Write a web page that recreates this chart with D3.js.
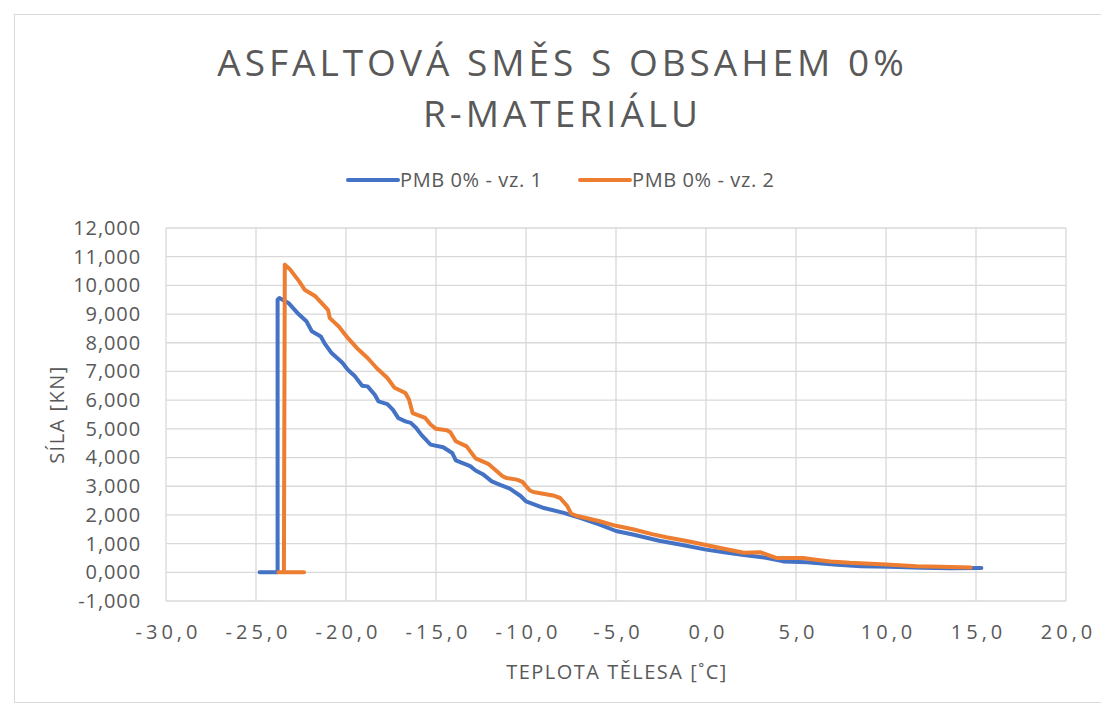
<!DOCTYPE html>
<html>
<head>
<meta charset="utf-8">
<script src="https://cdn.jsdelivr.net/npm/d3@7"></script>
<style>
  html, body { margin: 0; padding: 0; background: #fff; }
  svg { display: block; }
  text { font-family: "Open Sans", "Noto Sans", sans-serif; fill: #595959; }
</style>
</head>
<body>
<svg id="chart" width="1101" height="707"></svg>
<script>
// Tension test during cooling: force [kN] against specimen temperature [°C]
const titleLines = ["ASFALTOVÁ SMĚS S OBSAHEM 0%", "R-MATERIÁLU"];
const seriesNames = ["PMB 0% - vz. 1", "PMB 0% - vz. 2"];
const seriesColors = ["#4472C4", "#ED7D31"];
const xTicks = [-30, -25, -20, -15, -10, -5, 0, 5, 10, 15, 20];
const yTicks = [-1, 0, 1, 2, 3, 4, 5, 6, 7, 8, 9, 10, 11, 12];
const xTitle = "TEPLOTA TĚLESA [˚C]";
const yTitle = "SÍLA [KN]";

// specimen 1
const temp1 = [15.3, 13.6, 12.0, 10.2, 8.6, 7.1, 5.6, 4.3, 3.4, 2.1, 1.0, 0.0, -1.3, -2.6, -4.0, -5.0, -5.9, -7.0, -7.6, -7.9,
  -9.0, -10.0, -10.3, -10.9, -11.4, -11.9, -12.4, -12.8, -13.1, -13.9, -14.1, -14.6, -15.3, -15.8, -16.1, -16.4, -16.7, -17.1,
  -17.4, -17.7, -18.2, -18.4, -18.8, -19.1, -19.5, -19.9, -20.2, -20.8, -21.2, -21.4, -21.9, -22.2, -22.7, -23.2, -23.7, -23.8,
  -23.8, -24.8];
const force1 = [0.15, 0.14, 0.16, 0.19, 0.21, 0.27, 0.35, 0.38, 0.50, 0.60, 0.70, 0.79, 0.95, 1.10, 1.31, 1.44, 1.66, 1.90, 2.01, 2.07,
  2.24, 2.47, 2.66, 2.92, 3.04, 3.17, 3.42, 3.55, 3.70, 3.90, 4.16, 4.36, 4.45, 4.78, 5.03, 5.21, 5.26, 5.38,
  5.67, 5.86, 5.96, 6.19, 6.48, 6.50, 6.83, 7.06, 7.30, 7.64, 7.99, 8.22, 8.40, 8.75, 9.04, 9.39, 9.56, 9.50,
  0.0, 0.0];

// specimen 2
const temp2 = [14.7, 13.0, 11.7, 10.0, 8.0, 6.9, 6.0, 5.4, 4.5, 3.9, 3.0, 2.1, 1.0, 0.0, -1.0, -2.2, -3.0, -4.0, -5.0, -5.9,
  -7.2, -7.5, -7.7, -8.1, -8.5, -9.6, -9.8, -10.2, -10.5, -11.1, -11.3, -12.1, -12.8, -13.3, -13.9, -14.2, -14.4, -15.0,
  -15.3, -15.6, -16.3, -16.5, -16.7, -17.3, -17.7, -18.3, -18.8, -19.4, -19.9, -20.4, -20.9, -21.0, -21.7, -22.3, -22.6,
  -23.1, -23.4, -23.45, -23.76, -22.33];
const force2 = [0.17, 0.19, 0.21, 0.27, 0.33, 0.38, 0.45, 0.50, 0.50, 0.50, 0.70, 0.68, 0.82, 0.95, 1.08, 1.22, 1.33, 1.49, 1.62, 1.78,
  1.97, 2.05, 2.30, 2.59, 2.68, 2.80, 2.86, 3.15, 3.23, 3.29, 3.35, 3.78, 3.97, 4.39, 4.57, 4.88, 4.95, 5.00,
  5.15, 5.38, 5.55, 6.02, 6.25, 6.43, 6.77, 7.12, 7.47, 7.82, 8.17, 8.57, 8.86, 9.15, 9.62, 9.85, 10.14,
  10.55, 10.72, 0.0, 0.0, 0.0];

const series = [
  { name: seriesNames[0], color: seriesColors[0], pts: temp1.map((t, i) => [t, force1[i]]) },
  { name: seriesNames[1], color: seriesColors[1], pts: temp2.map((t, i) => [t, force2[i]]) }
];

const svg = d3.select("#chart");
const W = 1101, H = 707;
const plot = { left: 166, right: 1066, top: 228, bottom: 601 };

const loc = d3.formatLocale({ decimal: ",", thousands: " ", grouping: [3], currency: ["", ""], minus: "-" });
const fmtY = loc.format(".3f");
const fmtX = loc.format(".1f");

const x = d3.scaleLinear().domain([-30, 20]).range([plot.left, plot.right]);
const y = d3.scaleLinear().domain([-1, 12]).range([plot.bottom, plot.top]);

// chart frame
svg.append("rect").attr("x", 14.5).attr("y", 14.5).attr("width", W).attr("height", 688)
  .attr("fill", "#fff").attr("stroke", "#d9d9d9").attr("stroke-width", 1);

// gridlines
const grid = svg.append("g");
grid.selectAll("line.h").data(yTicks).join("line").attr("class", "h")
  .attr("x1", plot.left).attr("x2", plot.right)
  .attr("y1", d => y(d)).attr("y2", d => y(d))
  .attr("stroke", "#d9d9d9").attr("stroke-width", 1.3);
grid.selectAll("line.v").data(xTicks).join("line").attr("class", "v")
  .attr("y1", plot.top).attr("y2", plot.bottom)
  .attr("x1", d => x(d)).attr("x2", d => x(d))
  .attr("stroke", "#d9d9d9").attr("stroke-width", 1.3);

// y axis labels
const yAxis = d3.axisLeft(y).tickValues(yTicks).tickFormat(fmtY).tickSize(0).tickPadding(25);
const gy = svg.append("g").attr("transform", `translate(${plot.left},0)`).call(yAxis);
gy.select(".domain").remove();
gy.selectAll("text").attr("font-size", 20).style("fill", "#595959").style("letter-spacing", "0.9px")
  .attr("font-family", "'Open Sans', sans-serif");

// x axis labels
const xAxis = d3.axisBottom(x).tickValues(xTicks).tickFormat(fmtX).tickSize(0).tickPadding(24);
const gx = svg.append("g").attr("transform", `translate(0,${plot.bottom})`).call(xAxis);
gx.select(".domain").remove();
gx.selectAll("text").attr("font-size", 20).style("fill", "#595959").style("letter-spacing", "4px")
  .attr("dx", 2).attr("font-family", "'Open Sans', sans-serif");

// series lines
const line = d3.line().x(d => x(d[0])).y(d => y(d[1]));
svg.append("g").selectAll("path").data(series).join("path")
  .attr("d", d => line(d.pts))
  .attr("fill", "none").attr("stroke", d => d.color).attr("stroke-width", 4)
  .attr("stroke-linejoin", "round").attr("stroke-linecap", "round");

// title
svg.append("text").attr("text-anchor", "middle").attr("font-size", 37)
  .style("letter-spacing", "4px")
  .selectAll("tspan").data(titleLines).join("tspan")
  .attr("x", W / 2 + 12).attr("y", (d, i) => 76 + i * 51).text(d => d);

// legend
const legend = svg.append("g");
const legendItems = [{ x0: 348 }, { x0: 580 }];
series.forEach((s, i) => {
  const g = legend.append("g").attr("transform", `translate(${legendItems[i].x0},180)`);
  g.append("line").attr("x1", 0).attr("x2", 50).attr("y1", 0).attr("y2", 0)
    .attr("stroke", s.color).attr("stroke-width", 4).attr("stroke-linecap", "round");
  g.append("text").attr("x", 52).attr("y", 7).attr("font-size", 20)
    .style("letter-spacing", "0.6px").text(s.name);
});

// axis titles
svg.append("text").attr("text-anchor", "middle").attr("font-size", 20)
  .style("letter-spacing", "1.5px")
  .attr("x", (plot.left + plot.right) / 2 + 1).attr("y", 679).text(xTitle);
svg.append("text").attr("text-anchor", "middle").attr("font-size", 20)
  .style("letter-spacing", "1.5px")
  .attr("transform", `translate(64,${(plot.top + plot.bottom) / 2}) rotate(-90)`).text(yTitle);
</script>
</body>
</html>
